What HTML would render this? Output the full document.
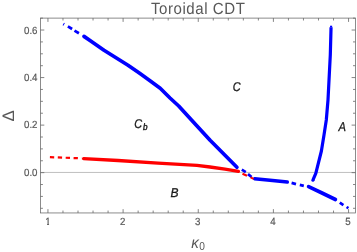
<!DOCTYPE html>
<html><head><meta charset="utf-8"><title>Toroidal CDT</title>
<style>
html,body{margin:0;padding:0;background:#fff;}
body{width:357px;height:252px;overflow:hidden;font-family:"Liberation Sans",sans-serif;}
svg{display:block;will-change:transform;opacity:0.999;}
text{font-family:"Liberation Sans",sans-serif;text-rendering:geometricPrecision;}
</style></head><body>
<svg width="357" height="252" viewBox="0 0 357 252">
<defs><clipPath id="one"><path d="M44 214 H49.05 V226 H47 V223.6 H44 Z"/></clipPath></defs>
<rect width="357" height="252" fill="#fff"/>
<!-- zero line -->
<path d="M40.5 172.45 H355.4" stroke="#b8b8b8" stroke-width="0.9" fill="none"/>
<!-- frame -->
<rect x="40.5" y="18.1" width="314.90" height="194.85" fill="none" stroke="#666" stroke-width="0.75"/>
<path d="M47.95 212.95 v-3.8 M47.95 18.1 v3.8 M62.98 212.95 v-2.4 M62.98 18.1 v2.4 M78.01 212.95 v-2.4 M78.01 18.1 v2.4 M93.04 212.95 v-2.4 M93.04 18.1 v2.4 M108.07 212.95 v-2.4 M108.07 18.1 v2.4 M123.10 212.95 v-3.8 M123.10 18.1 v3.8 M138.13 212.95 v-2.4 M138.13 18.1 v2.4 M153.16 212.95 v-2.4 M153.16 18.1 v2.4 M168.19 212.95 v-2.4 M168.19 18.1 v2.4 M183.22 212.95 v-2.4 M183.22 18.1 v2.4 M198.25 212.95 v-3.8 M198.25 18.1 v3.8 M213.28 212.95 v-2.4 M213.28 18.1 v2.4 M228.31 212.95 v-2.4 M228.31 18.1 v2.4 M243.34 212.95 v-2.4 M243.34 18.1 v2.4 M258.37 212.95 v-2.4 M258.37 18.1 v2.4 M273.40 212.95 v-3.8 M273.40 18.1 v3.8 M288.43 212.95 v-2.4 M288.43 18.1 v2.4 M303.46 212.95 v-2.4 M303.46 18.1 v2.4 M318.49 212.95 v-2.4 M318.49 18.1 v2.4 M333.52 212.95 v-2.4 M333.52 18.1 v2.4 M348.55 212.95 v-3.8 M348.55 18.1 v3.8 M40.5 208.31 h2.4 M355.4 208.31 h-2.4 M40.5 196.42 h2.4 M355.4 196.42 h-2.4 M40.5 184.53 h2.4 M355.4 184.53 h-2.4 M40.5 172.65 h3.8 M355.4 172.65 h-3.8 M40.5 160.77 h2.4 M355.4 160.77 h-2.4 M40.5 148.88 h2.4 M355.4 148.88 h-2.4 M40.5 137.00 h2.4 M355.4 137.00 h-2.4 M40.5 125.11 h3.8 M355.4 125.11 h-3.8 M40.5 113.23 h2.4 M355.4 113.23 h-2.4 M40.5 101.34 h2.4 M355.4 101.34 h-2.4 M40.5 89.45 h2.4 M355.4 89.45 h-2.4 M40.5 77.57 h3.8 M355.4 77.57 h-3.8 M40.5 65.69 h2.4 M355.4 65.69 h-2.4 M40.5 53.80 h2.4 M355.4 53.80 h-2.4 M40.5 41.91 h2.4 M355.4 41.91 h-2.4 M40.5 30.03 h3.8 M355.4 30.03 h-3.8 M40.5 18.15 h2.4 M355.4 18.15 h-2.4" stroke="#666" stroke-width="0.8" fill="none"/>
<!-- tick labels -->
<g font-size="10.4" fill="#585858" stroke="#585858" stroke-width="0.2"><g clip-path="url(#one)"><text transform="matrix(0.935 0.0004 0 1 47.95 224.90)" text-anchor="middle">1</text></g><text transform="matrix(0.935 0.0004 0 1 122.60 224.90)" text-anchor="middle">2</text><text transform="matrix(0.935 0.0004 0 1 197.75 224.90)" text-anchor="middle">3</text><text transform="matrix(0.935 0.0004 0 1 272.90 224.90)" text-anchor="middle">4</text><text transform="matrix(0.935 0.0004 0 1 348.05 224.90)" text-anchor="middle">5</text><text transform="matrix(0.935 0.0004 0 1 37.50 176.00)" text-anchor="end">0.0</text><text transform="matrix(0.935 0.0004 0 1 37.50 128.36)" text-anchor="end">0.2</text><text transform="matrix(0.935 0.0004 0 1 37.50 81.20)" text-anchor="end">0.4</text><text transform="matrix(0.935 0.0004 0 1 37.50 33.75)" text-anchor="end">0.6</text></g>
<!-- title and axis labels -->
<g fill="#585858">
<text font-size="16.2" letter-spacing="0.6" transform="matrix(0.93 0.0004 0 1 150.90 13.67)">Toroidal CDT</text>
<text transform="matrix(0 -1 1 0.0004 14.3 115.8)" font-size="16.7" text-anchor="middle">Δ</text>
<text font-size="16" font-style="italic" transform="matrix(0.95 0.0004 0 1 191.25 247.75)">κ<tspan font-size="11.5" font-style="normal" dx="0.3" dy="2.7" textLength="5.95" lengthAdjust="spacingAndGlyphs">0</tspan></text>
</g>
<!-- region labels -->
<g font-size="12.7" fill="#1a1a1a" stroke="#1a1a1a" stroke-width="0.3" font-style="italic">
<text transform="matrix(0.86 0.0004 0 1 232.80 90.60)">C</text>
<text transform="matrix(0.86 0.0004 0 1 134.30 128.00)">C<tspan font-size="9.4" dx="0.9" dy="2.2" stroke-width="0.45">b</tspan></text>
<text transform="matrix(0.95 0.0004 0 1 170.60 197.30)">B</text>
<text transform="matrix(0.88 0.0004 0 1 338.40 130.60)">A</text>
</g>
<!-- red curve -->
<g fill="none" stroke="#f00" stroke-linejoin="round">
<path d="M49.9 157.15 L81.6 158.35" stroke-width="2.2" stroke-dasharray="4.3 3.6"/>
<path d="M83.6 158.55 L118 160.5 L158 163.1 L197 165.3 L210 167.0 L225 169.2 L238.4 171.4" stroke-width="3.3" stroke-linecap="round"/>
<path d="M242.5 173.8 L247 175.8" stroke-width="2.2"/>
</g>
<!-- blue curves -->
<g fill="none" stroke="#00f" stroke-linejoin="round">
<path d="M63.3 23.95 L64.1 24.45 M67.9 26.4 L72.1 29 M74.5 30.6 L78.9 33.2" stroke-width="2.8"/>
<path d="M84 36.4 L90 40.5 L104 50.2 L128 65.3 L140 73.6 L150 80.8 L160.2 88.3 L170 98 L178.7 106 L191.5 120 L210.1 140.3 L225 155.3 L236.9 167.2" stroke-width="3.7" stroke-linecap="round"/>
<path d="M241.8 169.7 L245.8 172.1 M248 174.1 L251.6 177" stroke-width="2.7"/>
<path d="M254.6 178.7 L270 180.3 L287.3 182.1" stroke-width="3.5" stroke-linecap="round"/>
<path d="M291.6 182.9 L296 184.1 M299.8 184.9 L303.8 185.9" stroke-width="2.7"/>
<path d="M308.6 186.6 L322 193 L335.4 199.5" stroke-width="3.7" stroke-linecap="round"/>
<path d="M339.8 202.7 L343.4 205.2 M346.6 207 L348.4 208.2" stroke-width="2.7"/>
<path d="M312.9 180.2 L315.8 173.3 L321.4 151 L324 135 L326.3 120 L328 100 L330.3 55 L331.05 27.2" stroke-width="3.2"/>
<circle cx="312.9" cy="180.2" r="1.5" fill="#00f" stroke="none"/>
<path d="M331.1 27.4 V25.7" stroke-width="2.1"/>
</g>
<path d="M250.6 177.4 L253.6 178.8" stroke="#f00" stroke-width="2" fill="none"/>
</svg>
</body></html>
